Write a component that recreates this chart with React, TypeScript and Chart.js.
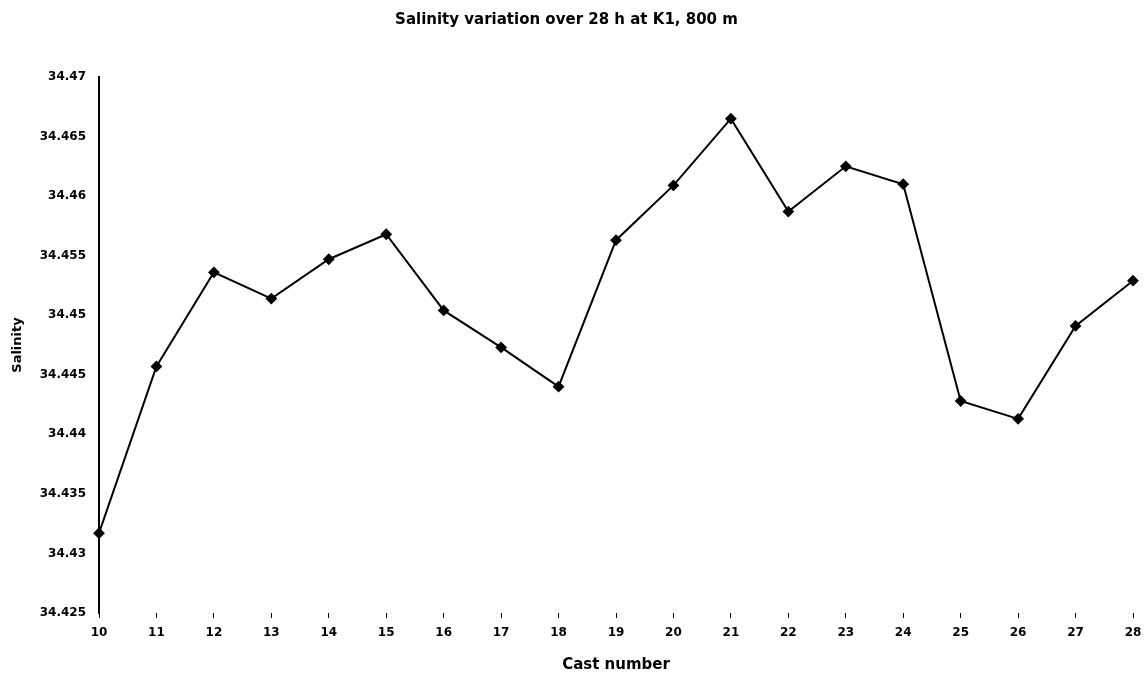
import React, { useEffect, useRef } from "react";
import { Chart, registerables } from "chart.js";

Chart.register(...registerables);

const castNumbers = ["10", "11", "12", "13", "14", "15", "16", "17", "18", "19", "20", "21", "22", "23", "24", "25", "26", "27", "28"];
const salinity = [34.4317, 34.4457, 34.4536, 34.4514, 34.4547, 34.4568, 34.4504, 34.4473, 34.444, 34.4563, 34.4609, 34.4665, 34.4587, 34.4625, 34.461, 34.4428, 34.4413, 34.4491, 34.4529];
const yMin = 34.425;
const yMax = 34.47;
const yStep = 0.005;
const titleText = "Salinity variation over 28 h at K1, 800 m";
const xTitle = "Cast number";
const yTitle = "Salinity";

export default function App() {
  const ref = useRef<HTMLCanvasElement>(null);
  useEffect(() => {
    document.body.style.margin = "0";
    const font = { family: "'DejaVu Sans', sans-serif", size: 12, weight: "bold" as const };
    const bigFont = { family: "'DejaVu Sans', sans-serif", size: 15, weight: "bold" as const };
    const chart = new Chart(ref.current!, {
      type: "line",
      data: {
        labels: castNumbers,
        datasets: [
          {
            data: salinity,
            borderColor: "#000",
            backgroundColor: "#000",
            borderWidth: 2,
            pointStyle: "rectRot",
            pointRadius: 4.5,
            pointBackgroundColor: "#000",
            pointBorderColor: "#000",
            tension: 0,
          },
        ],
      },
      options: {
        animation: false,
        responsive: false,
        layout: { padding: { left: 0, right: 13, top: 0, bottom: 0 } },
        plugins: {
          legend: { display: false },
          tooltip: { enabled: false },
          title: {
            display: true,
            text: titleText,
            color: "#000",
            font: bigFont,
            padding: { top: 11, bottom: 48 },
          },
        },
        scales: {
          x: {
            offset: false,
            grid: { display: true, drawOnChartArea: false, drawTicks: true, tickLength: 5, color: "#000" },
            border: { display: false },
            ticks: { color: "#000", font, padding: 8, maxRotation: 0, autoSkip: false },
            title: { display: true, text: xTitle, color: "#000", font: bigFont, padding: { top: 6, bottom: 3 } },
            afterFit: (s: any) => {
              s.height = 64;
              s.paddingRight = 0;
              s.paddingLeft = 0;
            },
          },
          y: {
            min: yMin,
            max: yMax,
            grid: { display: false, drawTicks: false },
            border: { display: true, color: "#000", width: 2 },
            ticks: {
              stepSize: yStep,
              color: "#000",
              font,
              padding: 13,
              callback: (v: any) => String(parseFloat(Number(v).toFixed(3))),
            },
            title: { display: true, text: yTitle, color: "#000", font: { ...font, size: 13 }, padding: { top: 10, bottom: 0 } },
            afterFit: (s: any) => {
              s.width = 99;
            },
          },
        },
      },
    });
    return () => chart.destroy();
  }, []);
  return <canvas ref={ref} width={1146} height={677} style={{ display: "block" }} />;
}
